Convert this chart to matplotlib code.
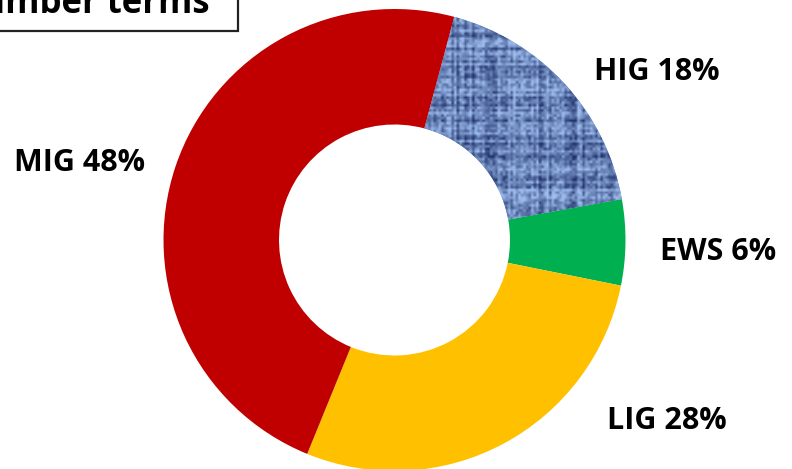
import matplotlib
matplotlib.use("Agg")
import matplotlib.pyplot as plt
import numpy as np
from matplotlib.patches import Rectangle

# Housing share by income group
labels = ["HIG", "EWS", "LIG", "MIG"]
shares = [18, 6, 28, 48]
colors = ["#6f8fc8", "#00B050", "#FFC000", "#C00000"]
title = "In number terms"

W, H = 792, 469
fig = plt.figure(figsize=(W / 100, H / 100), dpi=100)
ax = fig.add_axes([0, 0, 1, 1])

cx, cy, r = 394.5, H - 240, 231
wedges, _ = ax.pie(shares, colors=colors, startangle=75, counterclock=False,
                   center=(cx, cy), radius=r, frame=True,
                   wedgeprops=dict(width=r * 0.5, linewidth=0))
ax.set_xlim(0, W)
ax.set_ylim(0, H)
ax.set_aspect("equal")
ax.axis("off")

# burlap-style texture on the HIG segment
rng = np.random.default_rng(7)
n = 90
rows = rng.random((n, 1))
cols = rng.random((1, n))
grain = rng.random((n, n))
tex = 0.35 * grain + 0.3 * rows + 0.3 * cols
tex = (tex - tex.min()) / (tex.max() - tex.min())
tex = np.clip((tex - 0.5) * 1.6 + 0.55, 0, 1)
light = np.array([160, 190, 240]) / 255
dark = np.array([30, 50, 105]) / 255
img = dark + (light - dark) * tex[..., None]
im = ax.imshow(img, extent=(cx, cx + r, cy, cy + r), origin="lower",
               interpolation="bilinear", zorder=3)
im.set_clip_path(wedges[0])

font = dict(family=["Open Sans", "DejaVu Sans"], fontweight="bold", fontsize=22)
label_pos = [(657, 72), (718, 252), (667, 421), (80, 163)]
for name, val, (px, py) in zip(labels, shares, label_pos):
    ax.text(px, H - py, f"{name} {val}%", ha="center", va="center", **font)

# title box running off the top-left corner
ax.add_patch(Rectangle((-10, H - 31), 248, 60, facecolor="white",
                       edgecolor="#222222", linewidth=1.6, zorder=5, clip_on=False))
ax.text(210, H - 13, title, ha="right", va="baseline", zorder=6,
        family=["Open Sans", "DejaVu Sans"], fontweight="bold", fontsize=25)

fig.savefig("out.png", dpi=100)
